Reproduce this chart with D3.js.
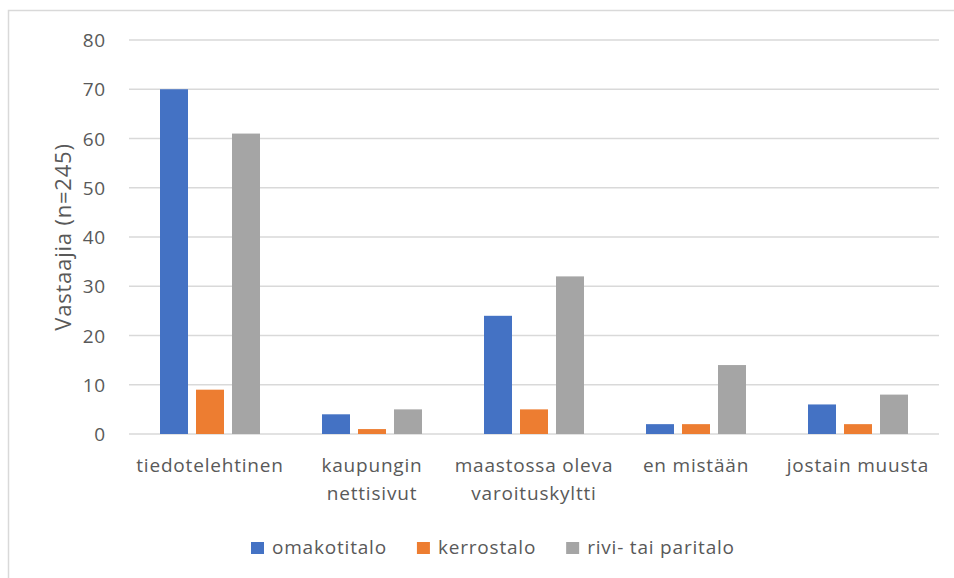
<!DOCTYPE html>
<html>
<head>
<meta charset="utf-8">
<script src="https://cdn.jsdelivr.net/npm/d3@7"></script>
<style>
  body { margin: 0; background: #fff; }
  text { font-family: "Open Sans", sans-serif; fill: #595959; letter-spacing: 0.8px; }
</style>
</head>
<body>
<svg width="954" height="578"></svg>
<script>
// --- Data ---
const categories = [
  "tiedotelehtinen",
  "kaupungin\nnettisivut",
  "maastossa oleva\nvaroituskyltti",
  "en mistään",
  "jostain muusta"
];
const seriesNames = ["omakotitalo", "kerrostalo", "rivi- tai paritalo"];
const seriesColors = ["#4472C4", "#ED7D31", "#A5A5A5"];
const omakotitalo = [70, 4, 24, 2, 6];
const kerrostalo = [9, 1, 5, 2, 2];
const riviTaiParitalo = [61, 5, 32, 14, 8];
const yTicks = [0, 10, 20, 30, 40, 50, 60, 70, 80];
const yTitle = "Vastaajia (n=245)";

const seriesValues = [omakotitalo, kerrostalo, riviTaiParitalo];

// --- Setup ---
const svg = d3.select("svg");
const plot = { left: 129, right: 939, top: 40, bottom: 434 };

// outer chart frame (runs past the right/bottom edge)
svg.append("rect")
  .attr("x", 8.5).attr("y", 10.5)
  .attr("width", 1000).attr("height", 700)
  .attr("fill", "none")
  .attr("stroke", "#d9d9d9")
  .attr("stroke-width", 1.5);

const y = d3.scaleLinear().domain([0, 80]).range([plot.bottom, plot.top]);
const x0 = d3.scaleBand().domain(d3.range(categories.length))
  .range([plot.left, plot.right]).padding(0);
const groupW = 100;
const x1 = d3.scaleBand().domain(d3.range(seriesNames.length))
  .range([0, groupW]).paddingInner(8 / 36).paddingOuter(0);

// --- Gridlines ---
svg.append("g")
  .selectAll("line")
  .data(yTicks)
  .enter().append("line")
    .attr("x1", plot.left).attr("x2", plot.right)
    .attr("y1", d => y(d)).attr("y2", d => y(d))
    .attr("stroke", "#d9d9d9")
    .attr("stroke-width", 1.5);

// --- Y tick labels ---
svg.append("g")
  .selectAll("text")
  .data(yTicks)
  .enter().append("text")
    .attr("x", 106)
    .attr("y", d => y(d) + 7)
    .attr("text-anchor", "end")
    .attr("font-size", "19px")
    .text(d => d);

// --- Y title ---
svg.append("text")
  .attr("transform", `translate(71,${(plot.top + plot.bottom) / 2}) rotate(-90)`)
  .attr("text-anchor", "middle")
  .attr("font-size", "22px")
  .text(yTitle);

// --- Bars ---
const groups = svg.append("g")
  .selectAll("g")
  .data(categories.map((c, i) => i))
  .enter().append("g")
    .attr("transform", i => `translate(${x0(i) + (x0.bandwidth() - groupW) / 2},0)`);

groups.selectAll("rect")
  .data(i => seriesValues.map((vals, s) => ({ s, v: vals[i] })))
  .enter().append("rect")
    .attr("x", d => x1(d.s))
    .attr("width", x1.bandwidth())
    .attr("y", d => y(d.v))
    .attr("height", d => y(0) - y(d.v))
    .attr("fill", d => seriesColors[d.s]);

// --- X labels ---
const xl = svg.append("g")
  .selectAll("text")
  .data(categories)
  .enter().append("text")
    .attr("x", (d, i) => x0(i) + x0.bandwidth() / 2)
    .attr("y", 472)
    .attr("text-anchor", "middle")
    .attr("font-size", "19px");
xl.each(function(d, i) {
  const lines = d.split("\n");
  const t = d3.select(this);
  lines.forEach((ln, k) => {
    t.append("tspan")
      .attr("x", x0(i) + x0.bandwidth() / 2)
      .attr("dy", k === 0 ? 0 : 28)
      .text(ln);
  });
});

// --- Legend ---
const legend = svg.append("g");
let lx = 251;
seriesNames.forEach((name, s) => {
  legend.append("rect")
    .attr("x", lx).attr("y", 542)
    .attr("width", 13).attr("height", 12)
    .attr("fill", seriesColors[s]);
  const t = legend.append("text")
    .attr("x", lx + 21).attr("y", 554)
    .attr("font-size", "19px")
    .text(name);
  lx += 21 + t.node().getComputedTextLength() + 30;
});
</script>
</body>
</html>
